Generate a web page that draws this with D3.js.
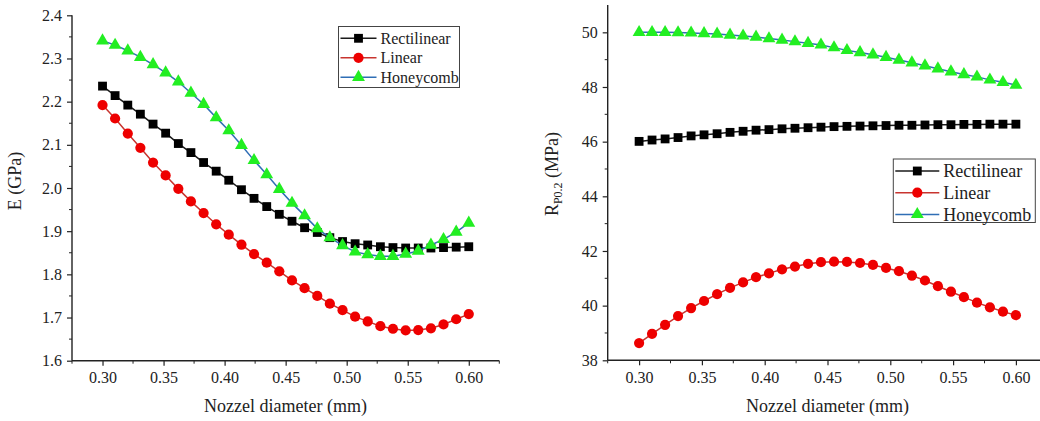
<!DOCTYPE html>
<html><head><meta charset="utf-8">
<script src="https://cdn.jsdelivr.net/npm/d3@7"></script>
<style>
body{margin:0;background:#fff;}
svg text{font-family:"Liberation Serif","Times New Roman","DejaVu Serif",serif !important;fill:#222;}
</style></head>
<body><svg id="c" width="1040" height="421"></svg>
<script>
const nozzle = [0.3000,0.3103,0.3207,0.3310,0.3414,0.3517,0.3621,0.3724,0.3828,0.3931,0.4034,0.4138,0.4241,0.4345,0.4448,0.4552,0.4655,0.4759,0.4862,0.4966,0.5069,0.5172,0.5276,0.5379,0.5483,0.5586,0.5690,0.5793,0.5897,0.6000];
const seriesNames = ["Rectilinear","Linear","Honeycomb"];
// Left chart: E (GPa)
const eRect = [2.236,2.214,2.192,2.171,2.148,2.127,2.103,2.082,2.059,2.039,2.018,1.996,1.976,1.957,1.939,1.923,1.908,1.897,1.885,1.876,1.871,1.868,1.864,1.862,1.861,1.861,1.861,1.862,1.863,1.864];
const eLin = [2.192,2.161,2.126,2.093,2.059,2.029,1.998,1.969,1.942,1.916,1.892,1.869,1.847,1.827,1.807,1.786,1.768,1.750,1.732,1.717,1.702,1.691,1.680,1.674,1.670,1.671,1.675,1.684,1.696,1.708];
const eHoney = [2.341,2.331,2.318,2.303,2.286,2.267,2.246,2.220,2.194,2.163,2.133,2.099,2.064,2.031,1.997,1.965,1.936,1.906,1.885,1.867,1.852,1.846,1.842,1.842,1.847,1.854,1.868,1.881,1.898,1.919];
// Right chart: R_P0.2 (MPa)
const rRect = [46.01,46.06,46.10,46.15,46.21,46.25,46.29,46.34,46.38,46.42,46.44,46.47,46.49,46.51,46.53,46.55,46.56,46.57,46.58,46.59,46.60,46.60,46.61,46.62,46.62,46.63,46.63,46.64,46.64,46.64];
const rLin = [38.63,38.97,39.30,39.62,39.91,40.17,40.42,40.65,40.85,41.04,41.18,41.33,41.43,41.53,41.59,41.61,41.60,41.56,41.49,41.38,41.26,41.10,40.92,40.71,40.51,40.31,40.11,39.94,39.78,39.65];
const rHoney = [50.00,50.00,50.00,49.99,49.98,49.96,49.94,49.90,49.87,49.83,49.77,49.72,49.66,49.60,49.54,49.44,49.34,49.26,49.18,49.09,48.99,48.89,48.78,48.67,48.56,48.46,48.37,48.26,48.17,48.07];
const xTicks = [0.30,0.35,0.40,0.45,0.50,0.55,0.60];
const eTicks = [1.6,1.7,1.8,1.9,2.0,2.1,2.2,2.3,2.4];
const rTicks = [38,40,42,44,46,48,50];

const styles = [
  {line:"#1a1a1a", fill:"#000000", shape:d3.symbolSquare, size:78},
  {line:"#c8342f", fill:"#ee0000", shape:d3.symbolCircle, size:82},
  {line:"#2f6eb5", fill:"#22ee22", shape:d3.symbolTriangle, size:72}
];
const SERIF = '"Liberation Serif","Times New Roman","DejaVu Serif",serif';

const svg = d3.select("#c");

function drawChart(cfg){
  const g = svg.append("g");
  const x = d3.scaleLinear().domain([0.275,0.625]).range(cfg.xr);
  const y = d3.scaleLinear().domain(cfg.yd).range(cfg.yr);
  cfg.data.forEach((vals,i)=>{
    const st = styles[i];
    const line = d3.line().x((d,j)=>x(nozzle[j])).y(d=>y(d));
    g.append("path").datum(vals).attr("d",line).attr("fill","none")
      .attr("stroke",st.line).attr("stroke-width",1.5);
    g.selectAll(null).data(vals).enter().append("path")
      .attr("d",d3.symbol().type(st.shape).size(st.size))
      .attr("transform",(d,j)=>`translate(${x(nozzle[j])},${y(d)})`)
      .attr("fill",st.fill);
  });
  const xMinor = xTicks.map(t=>t-0.025).concat([0.625]);
  const xa = g.append("g").attr("transform",`translate(0,${cfg.yr[0]})`);
  xa.call(d3.axisBottom(x).tickValues(xTicks).tickFormat(d3.format(".2f")).tickSize(5).tickPadding(6));
  xa.selectAll(null).data(xMinor).enter().append("line")
    .attr("x1",d=>x(d)).attr("x2",d=>x(d)).attr("y1",0).attr("y2",3).attr("stroke","#222");
  const ya = g.append("g").attr("transform",`translate(${cfg.xr[0]},0)`);
  ya.call(d3.axisLeft(y).tickValues(cfg.yt).tickFormat(cfg.yf).tickSize(5).tickPadding(5));
  ya.selectAll(null).data(cfg.yminor).enter().append("line")
    .attr("y1",d=>y(d)).attr("y2",d=>y(d)).attr("x1",0).attr("x2",-3).attr("stroke","#222");
  [xa,ya].forEach(a=>{
    a.attr("font-family",SERIF).attr("font-size",16);
    a.select(".domain").remove();
    a.selectAll(".tick line").attr("stroke","#222").attr("stroke-width",1.2);
    a.selectAll(".tick text").style("font-family",SERIF).style("font-size","16px").attr("fill","#222");
  });
  xa.append("line").attr("x1",cfg.xr[0]).attr("x2",cfg.xr[1]).attr("stroke","#222").attr("stroke-width",1.4);
  ya.append("line").attr("y1",cfg.yr[0]).attr("y2",cfg.yr[1]).attr("stroke","#222").attr("stroke-width",1.4);
  g.append("text").attr("x",cfg.xtx).attr("y",412).attr("text-anchor","middle")
    .style("font-family",SERIF).style("font-size","18px").text("Nozzel diameter (mm)");
  const L = cfg.leg;
  const lg = g.append("g");
  lg.append("rect").attr("x",L.x).attr("y",L.y).attr("width",L.w).attr("height",L.h)
    .attr("fill","#fff").attr("stroke","#444").attr("stroke-width",1);
  seriesNames.forEach((n,i)=>{
    const st = styles[i];
    const yy = L.y + L.r0 + i*L.dr;
    lg.append("line").attr("x1",L.x+2).attr("x2",L.x+2+L.lw).attr("y1",yy).attr("y2",yy)
      .attr("stroke",st.line).attr("stroke-width",1.5);
    lg.append("path").attr("d",d3.symbol().type(st.shape).size(st.size))
      .attr("transform",`translate(${L.x+2+L.lw/2},${yy})`).attr("fill",st.fill);
    lg.append("text").attr("x",L.x+L.lw+6).attr("y",yy).attr("dy","0.35em")
      .style("font-family",SERIF).style("font-size",L.fs+"px").text(n);
  });
  return g;
}

drawChart({
  xr:[72,499.3], yd:[1.6,2.4], yr:[360.7,15.3], yt:eTicks, yf:d3.format(".1f"),
  yminor:[1.65,1.75,1.85,1.95,2.05,2.15,2.25,2.35],
  data:[eRect,eLin,eHoney], xtx:285.5,
  leg:{x:338.5,y:26.5,w:121,h:61,r0:11.8,dr:19.5,lw:36,fs:16}
});
svg.append("text").attr("transform","translate(21,181) rotate(-90)").attr("text-anchor","middle")
  .style("font-family",SERIF).style("font-size","18px").text("E (GPa)");

drawChart({
  xr:[607.7,1047.3], yd:[38,51], yr:[360.3,5], yt:rTicks, yf:d3.format("d"),
  yminor:[39,41,43,45,47,49],
  data:[rRect,rLin,rHoney], xtx:827.5,
  leg:{x:893.3,y:159,w:142,h:63.5,r0:12,dr:21.7,lw:44,fs:18}
});
const rt = svg.append("text").attr("transform","translate(558,174) rotate(-90)").attr("text-anchor","middle")
  .style("font-family",SERIF).style("font-size","18px");
rt.append("tspan").text("R");
rt.append("tspan").style("font-size","12px").attr("dy",4).text("P0.2");
rt.append("tspan").attr("dy",-4).text(" (MPa)");
</script></body></html>
